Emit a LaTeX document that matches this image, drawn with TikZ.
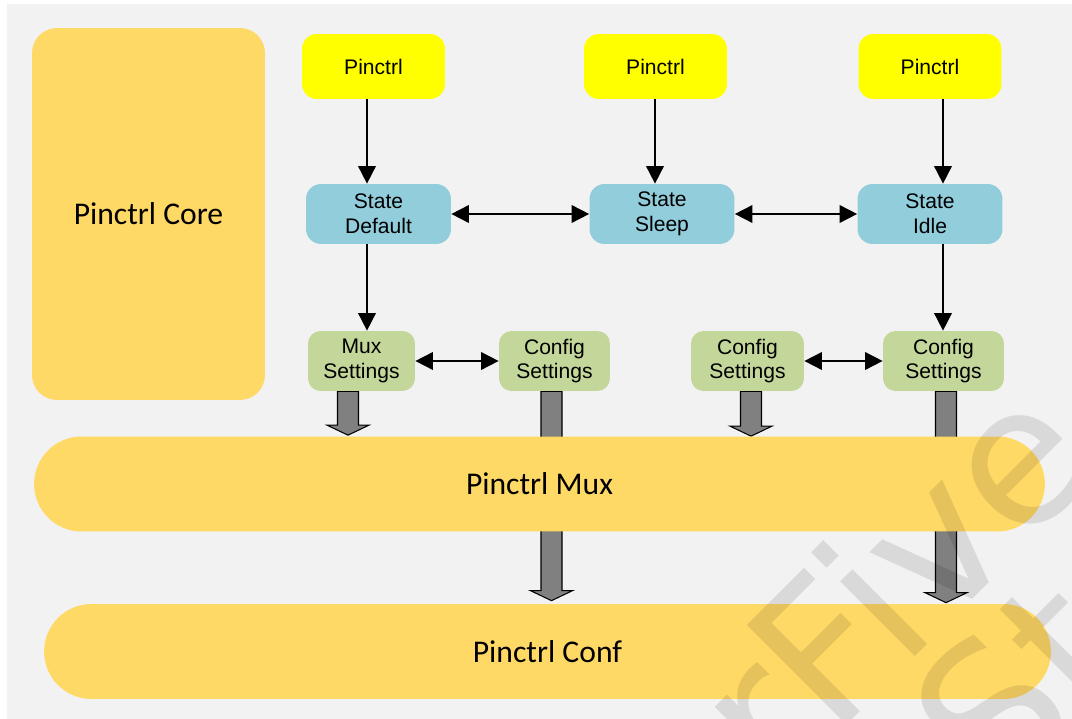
\documentclass[tikz,border=0pt]{standalone}
\usepackage{fontspec}
\setmainfont{Liberation Sans}
\newfontfamily\bandfont{Carlito}
\newfontfamily\markfont{DejaVu Sans}
\usetikzlibrary{arrows.meta, calc, backgrounds}
\definecolor{bggray}{HTML}{F2F2F2}
\definecolor{coreyellow}{HTML}{FFD966}
\definecolor{pinyellow}{HTML}{FFFF00}
\definecolor{stateblue}{HTML}{92CDDC}
\definecolor{setgreen}{HTML}{C4D79B}
\definecolor{fatgray}{HTML}{808080}

\tikzset{
  box/.style={rectangle, rounded corners=0.3cm, align=center, inner sep=0pt,
              font=\fontsize{12}{14}\selectfont},
  pinbox/.style={box, fill=pinyellow, minimum width=2.86cm, minimum height=1.3cm},
  statebox/.style={box, fill=stateblue, minimum width=2.9cm, minimum height=1.2cm},
  setbox/.style={box, fill=setgreen, rounded corners=0.25cm, minimum height=1.2cm},
  band/.style={rectangle, fill=coreyellow, rounded corners=0.95cm,
               minimum height=1.9cm, font=\bandfont\fontsize{18}{22}\selectfont},
  link/.style={line width=1pt, -{Triangle[length=10pt,width=10pt]}},
  twoway/.style={line width=1pt,
                 {Triangle[length=10pt,width=10pt]}-{Triangle[length=10pt,width=10pt]}},
  % wide grey block arrow, shaft 21px, head 42px
  fatarrow/.style={fill=fatgray, draw=black, line width=0.6pt, line join=miter,
    to path={($(\tikztostart)+(-0.21cm,0)$) -- ($(\tikztotarget)+(-0.21cm,0.2cm)$)
      -- ($(\tikztotarget)+(-0.42cm,0.2cm)$) -- (\tikztotarget)
      -- ($(\tikztotarget)+(0.42cm,0.2cm)$) -- ($(\tikztotarget)+(0.21cm,0.2cm)$)
      -- ($(\tikztostart)+(0.21cm,0)$) -- cycle}},
  wmark/.style={rotate=45, text=black, text opacity=0.1,
                font=\markfont\fontsize{110}{110}\selectfont}
}

\begin{document}
\begin{tikzpicture}[x=0.02cm, y=-0.02cm]
  %% canvas 1072 x 719
  \useasboundingbox (0,0) rectangle (1072,719);

  %% core block on the left
  \node[rectangle, fill=coreyellow, rounded corners=0.5cm, minimum width=4.66cm,
        minimum height=7.44cm, font=\bandfont\fontsize{18}{22}\selectfont]
        (core) at (148.5,214) {Pinctrl Core};

  %% pinctrl handles
  \node[pinbox] (pin1) at (373.5,66.5) {Pinctrl};
  \node[pinbox] (pin2) at (655.5,66.5) {Pinctrl};
  \node[pinbox] (pin3) at (930,66.5) {Pinctrl};

  %% states
  \node[statebox] (dflt)  at (378.5,214) {State\\Default};
  \node[statebox] (sleep) at (662,214)   {State\\Sleep};
  \node[statebox] (idle)  at (930,214)   {State\\Idle};

  %% settings
  \node[setbox, minimum width=2.14cm] (mux)  at (361.5,361) {Mux\\Settings};
  \node[setbox, minimum width=2.22cm] (cfgA) at (554.5,361) {Config\\Settings};
  \node[setbox, minimum width=2.26cm] (cfgB) at (747.5,361) {Config\\Settings};
  \node[setbox, minimum width=2.42cm] (cfgC) at (943.5,361) {Config\\Settings};

  %% subsystems
  \node[band, minimum width=20.22cm] (muxband)  at (539.5,484)   {Pinctrl Mux};
  \node[band, minimum width=20.14cm] (confband) at (547.5,651.5) {Pinctrl Conf};

  %% thin arrows
  \coordinate (col1) at (367,0);
  \coordinate (col2) at (655,0);
  \coordinate (col3) at (943,0);
  \draw[link] (pin1.south -| col1) -- (dflt.north -| col1);
  \draw[link] (pin2.south -| col2) -- (sleep.north -| col2);
  \draw[link] (pin3.south -| col3) -- (idle.north -| col3);
  \draw[link] (dflt.south -| col1) -- (mux.north -| col1);
  \draw[link] (idle.south -| col3) -- (cfgC.north -| col3);
  \draw[twoway] (dflt) -- (sleep);
  \draw[twoway] (sleep) -- (idle);
  \draw[twoway] (mux) -- (cfgA);
  \draw[twoway] (cfgB) -- (cfgC);

  %% block arrows run behind the bands
  \coordinate (muxout)  at ([xshift=-0.27cm]mux.south);
  \coordinate (cfgAout) at ([xshift=-0.06cm]cfgA.south);
  \coordinate (cfgBout) at ([xshift=0.07cm]cfgB.south);
  \coordinate (cfgCout) at ([xshift=0.05cm]cfgC.south);
  \coordinate (muxin)  at ($(muxout |- muxband.north)+(0,0.02cm)$);
  \coordinate (cfgAin) at ($(cfgAout |- confband.north)+(0,0.06cm)$);
  \coordinate (cfgBin) at (cfgBout |- muxband.north);
  \coordinate (cfgCin) at ($(cfgCout |- confband.north)+(0,0.02cm)$);
  \begin{scope}[on background layer]
    \fill[white] (0,0) rectangle (1072,719);
    \fill[bggray] (7,4) rectangle (1072,719);
    \draw[fatarrow] (muxout) to (muxin);
    \draw[fatarrow] (cfgAout) to (cfgAin);
    \draw[fatarrow] (cfgBout) to (cfgBin);
    \draw[fatarrow] (cfgCout) to (cfgCin);
  \end{scope}

  %% watermark
  \begin{scope}
    \clip (0,0) rectangle (1072,719);
    \node[wmark] (mark1) at (778,692)  {StarFive};
    \node[wmark] (mark2) at (1222,478) {StarFive};
  \end{scope}
\end{tikzpicture}
\end{document}
